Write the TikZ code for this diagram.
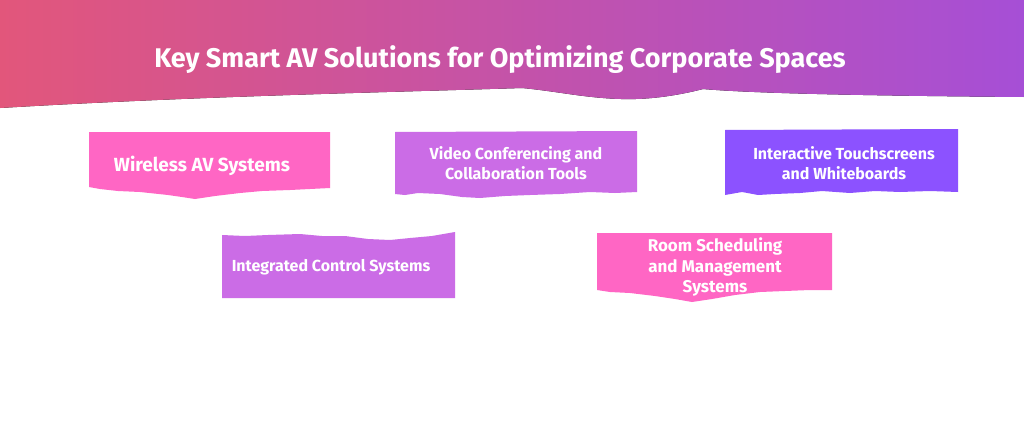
\documentclass[tikz,border=0pt]{standalone}
\usepackage{fontspec}
\setmainfont{Fira Sans}
\usetikzlibrary{positioning,calc}

\definecolor{headleft}{HTML}{E2567B}
\definecolor{headright}{HTML}{A64FD6}
\definecolor{tornpink}{HTML}{FF66C4}
\definecolor{tornlilac}{HTML}{CB6CE6}
\definecolor{tornviolet}{HTML}{8C52FF}

\begin{document}
\begin{tikzpicture}[
  x=1pt,y=-1pt,
  every node/.style={text=white,align=center,inner sep=0pt},
  box-text/.style={font=\bfseries\fontsize{16}{20}\selectfont},
  big-text/.style={font=\bfseries\fontsize{19}{22}\selectfont},
  room-text/.style={font=\bfseries\fontsize{17}{20.5}\selectfont},
  title-text/.style={font=\bfseries\fontsize{27}{30}\selectfont},
  head-band/.style={left color=headleft,right color=headright},
  ]

  \fill [white] (0,0) rectangle (1024,444);
  \useasboundingbox (0,0) rectangle (1024,444);

  \fill [head-band] (0,0) -- (1024,0) -- (1024,97)
    .. controls (900,96) and (760,94) .. (703,89)
    .. controls (680,95) and (650,100) .. (621,99)
    .. controls (585,98) and (555,91) .. (522,88)
    .. controls (400,92) and (200,96) .. (0,108) -- cycle;
  \node [title-text] (title-node) at (500,60) {Key Smart AV Solutions for Optimizing Corporate Spaces};

  \fill [tornpink] (89,132) -- (330,132) -- (330,188) -- (310,189) -- (290,190) -- (262,191)
    -- (240,193) -- (215,196) -- (195,199) -- (182,197) -- (168,195) -- (140,192)
    -- (118,191) -- (100,189) -- (89,187) -- cycle;
  \node [big-text] (wireless-text) at (202,166) {Wireless AV Systems};

  \fill [tornlilac] (395,132) -- (637,131) -- (637,192) -- (615,193) -- (590,192) -- (560,194)
    -- (530,195) -- (505,196) -- (480,198) -- (462,197) -- (440,194) -- (418,193)
    -- (405,195) -- (395,194) -- cycle;
  \node [box-text] (video-text) at (516,163) {Video Conferencing and\\Collaboration Tools};

  \fill [tornviolet] (725,130) -- (958,129) -- (958,192) -- (930,191) -- (900,192) -- (875,191)
    -- (850,193) -- (822,191) -- (800,193) -- (775,194) -- (758,195) -- (742,192)
    -- (725,195) -- cycle;
  \node [box-text] (touch-text) at (844,163) {Interactive Touchscreens\\and Whiteboards};

  \fill [tornlilac] (222,235) -- (245,236) -- (268,235) -- (300,234) -- (322,236) -- (345,236)
    -- (368,239) -- (390,240) -- (410,238) -- (432,236) -- (455,232) -- (455,298)
    -- (222,298) -- cycle;
  \node [box-text] (control-text) at (331,267) {Integrated Control Systems};

  \fill [tornpink] (597,233) -- (832,233) -- (832,290) -- (810,290) -- (785,291) -- (760,292)
    -- (735,295) -- (712,299) -- (692,302) -- (675,299) -- (655,296) -- (630,293)
    -- (610,292) -- (597,290) -- cycle;
  \node [room-text] (room-text) at (715,267) {Room Scheduling\\and Management\\Systems};

\end{tikzpicture}
\end{document}
